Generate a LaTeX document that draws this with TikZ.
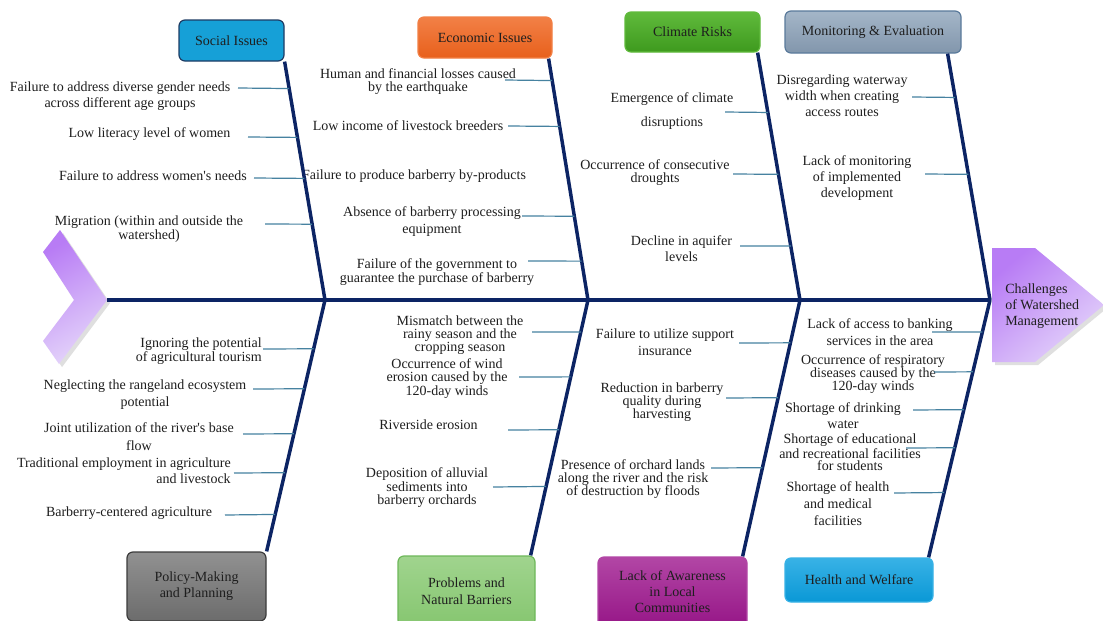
\documentclass[tikz,border=0pt]{standalone}
\usepackage{fontspec}
\setmainfont{Liberation Serif}
\usetikzlibrary{calc,shadows}
\definecolor{navy}{RGB}{12,36,100}
\definecolor{subc}{RGB}{70,130,160}
\definecolor{txtc}{RGB}{30,30,30}
\definecolor{lavA}{RGB}{184,124,245}
\definecolor{lavB}{RGB}{228,212,250}
\definecolor{socF}{RGB}{22,160,215}
\definecolor{socD}{RGB}{30,60,100}
\definecolor{ecoA}{RGB}{242,128,70}
\definecolor{ecoB}{RGB}{232,96,28}
\definecolor{cliA}{RGB}{96,186,60}
\definecolor{cliB}{RGB}{62,154,30}
\definecolor{monA}{RGB}{164,182,200}
\definecolor{monB}{RGB}{130,150,172}
\definecolor{monD}{RGB}{90,122,155}
\definecolor{polA}{RGB}{145,145,145}
\definecolor{polB}{RGB}{108,108,108}
\definecolor{polD}{RGB}{60,60,60}
\definecolor{proA}{RGB}{160,212,142}
\definecolor{proB}{RGB}{134,198,112}
\definecolor{proD}{RGB}{110,184,90}
\definecolor{awaA}{RGB}{178,70,165}
\definecolor{awaB}{RGB}{150,22,135}
\definecolor{heaA}{RGB}{56,178,230}
\definecolor{heaB}{RGB}{10,152,214}
\begin{document}
\begin{tikzpicture}[x=0.75pt,y=-0.75pt,
  txt/.style={inner sep=0pt, align=center, text=txtc, font=\fontsize{10.5}{9.75}\selectfont},
  lsp/.style={font=\fontsize{10.5}{#1}\selectfont},
  catbox/.style={rounded corners=4.5pt, inner sep=0pt, align=center, text=txtc,
    font=\fontsize{10.5}{12}\selectfont, line width=0.9pt},
  spineline/.style={draw=navy, line width=3pt},
  boneline/.style={draw=navy, line width=2.6pt},
  subline/.style={draw=subc, line width=0.9pt}]
\path[use as bounding box] (0,0) rectangle (1103,621);
\clip (0,0) rectangle (1103,621);
\fill[white] (0,0) rectangle (1103,621);

% tail chevron and head
\shade[top color=lavA, bottom color=lavB, shading angle=30, drop shadow={opacity=0.25}]
  (43,252) -- (60,230) -- (107,300) -- (59,364) -- (43,341) -- (74,300) -- cycle;
\coordinate (tailtip) at (107,300);
\shade[top color=lavA, bottom color=lavB, shading angle=40, drop shadow={opacity=0.25}]
  (992,248) -- (1035,248) -- (1104,305) -- (1035,362) -- (992,362) -- cycle;
\node[txt, lsp=12, align=left, anchor=west] (head) at (1005,306) {Challenges\\of Watershed\\Management};

% category boxes
\node[catbox, draw=socD, fill=socF, minimum width=78.75pt, minimum height=30.75pt] (soc) at (231.5,40.5) {Social Issues};
\node[catbox, draw=ecoA, top color=ecoA, bottom color=ecoB, minimum width=100.5pt, minimum height=30.75pt] (eco) at (485,37.5) {Economic Issues};
\node[catbox, draw=cliA, top color=cliA, bottom color=cliB, minimum width=101.25pt, minimum height=30pt] (cli) at (692.5,32) {Climate Risks};
\node[catbox, draw=monD, top color=monA, bottom color=monB, minimum width=132pt, minimum height=31.5pt] (mon) at (873,32) {Monitoring \& Evaluation};
\node[catbox, draw=polD, top color=polA, bottom color=polB, minimum width=104.25pt, minimum height=51.75pt] (pol) at (196.5,586.5) {Policy-Making\\and Planning};
\node[catbox, draw=proD, top color=proA, bottom color=proB, minimum width=102.75pt, minimum height=52.5pt, font=\fontsize{10.5}{12.75}\selectfont] (pro) at (466.5,591) {Problems and\\Natural Barriers};
\node[catbox, draw=awaA, top color=awaA, bottom color=awaB, minimum width=111.75pt, minimum height=52.5pt] (awa) at (672.5,592) {Lack of Awareness\\in Local\\Communities};
\node[catbox, draw=heaA, top color=heaA, bottom color=heaB, minimum width=111pt, minimum height=33pt] (hea) at (859,580) {Health and Welfare};

% spine junctions
\coordinate (j1) at (325,300);
\coordinate (j2) at (588,300);
\coordinate (j3) at (800,300);
\coordinate (j4) at (990,300);
\coordinate (socT) at (soc.south east);
\coordinate (ecoT) at ([xshift=-3pt]eco.south east);
\coordinate (cliT) at ([xshift=-2.25pt]cli.south east);
\coordinate (monT) at ([xshift=-10.5pt]mon.south east);
\coordinate (polB) at (pol.north east);
\coordinate (proB) at ([xshift=-3.75pt]pro.north east);
\coordinate (awaB) at ([xshift=-3.75pt]awa.north east);
\coordinate (heaB) at ([xshift=-3.75pt]hea.north east);

% cause texts
\node[txt, lsp=12] (s1) at (120,96) {Failure to address diverse gender needs\\across different age groups};
\node[txt] (s2) at (149.5,134) {Low literacy level of women};
\node[txt] (s3) at (153,176) {Failure to address women\textquotesingle s needs};
\node[txt, lsp=10.5] (s4) at (149,229) {Migration (within and outside the\\watershed)};

\node[txt, lsp=9.75] (e1) at (418,81.5) {Human and financial losses caused\\by the earthquake};
\node[txt] (e2) at (408,126) {Low income of livestock breeders};
\node[txt] (e3) at (414,176) {Failure to produce barberry by-products};
\node[txt, lsp=12.75] (e4) at (432,221.5) {Absence of barberry processing\\equipment};
\node[txt, lsp=9] (e5) at (437,272) {Failure of the government to\\guarantee the purchase of barberry};

\node[txt, lsp=18] (c1) at (672,111) {Emergence of climate\\disruptions};
\node[txt, lsp=9.75] (c2) at (655,172.5) {Occurrence of consecutive\\droughts};
\node[txt, lsp=12] (c3) at (681.5,249) {Decline in aquifer\\levels};

\node[txt, lsp=12] (m1) at (842,96) {Disregarding waterway\\width when creating\\access routes};
\node[txt, lsp=12] (m2) at (857,178) {Lack of monitoring\\of implemented\\development};

\node[txt, lsp=10.5, align=right, anchor=east] (p1) at (262,351) {Ignoring the potential\\of agricultural tourism};
\node[txt, lsp=12.75] (p2) at (145,394.5) {Neglecting the rangeland ecosystem\\potential};
\node[txt, lsp=13.5] (p3) at (139,437) {Joint utilization of the river\textquotesingle s base\\flow};
\node[txt, lsp=12, align=right, anchor=east] (p4) at (231,471) {Traditional employment in agriculture\\and livestock};
\node[txt] (p5) at (129,513) {Barberry-centered agriculture};

\node[txt, lsp=9.75] (r1) at (460,335) {Mismatch between the\\rainy season and the\\cropping season};
\node[txt, lsp=9.4] (r2) at (447,378.5) {Occurrence of wind\\erosion caused by the\\120-day winds};
\node[txt] (r3) at (428.5,425) {Riverside erosion};
\node[txt, lsp=9.4] (r4) at (427,487.5) {Deposition of alluvial\\sediments into\\barberry orchards};

\node[txt, lsp=12.75] (a1) at (665,342.5) {Failure to utilize support\\insurance};
\node[txt, lsp=9.75] (a2) at (662,402) {Reduction in barberry\\quality during\\harvesting};
\node[txt, lsp=9.75] (a3) at (633,479) {Presence of orchard lands\\along the river and the risk\\of destruction by floods};

\node[txt, lsp=12.75] (h1) at (880,332.5) {Lack of access to banking\\services in the area};
\node[txt, lsp=9.75] (h2) at (873,374.5) {Occurrence of respiratory\\diseases caused by the\\120-day winds};
\node[txt, lsp=12] (h3) at (843,416) {Shortage of drinking\\water};
\node[txt, lsp=9.4] (h4) at (850,452.5) {Shortage of educational\\and recreational facilities\\for students};
\node[txt, lsp=12.75] (h5) at (838,504) {Shortage of health\\and medical\\facilities};

% spine and bones
\draw[spineline] (tailtip) -- (j4);
\draw[boneline] (socT) -- (j1);
\draw[boneline] (ecoT) -- (j2);
\draw[boneline] (cliT) -- (j3);
\draw[boneline] (monT) -- (j4);
\draw[boneline] (j1) -- (polB);
\draw[boneline] (j2) -- (proB);
\draw[boneline] (j3) -- (awaB);
\draw[boneline] (j4) -- (heaB);

% sub-bone start points
\coordinate (s1s) at (238,88);  \coordinate (s2s) at (248,137);
\coordinate (s3s) at (254,178); \coordinate (s4s) at (265,224);
\coordinate (e1s) at (505,80);  \coordinate (e2s) at (508,126);
\coordinate (e4s) at (522,216); \coordinate (e5s) at (528,261);
\coordinate (c1s) at (725,112); \coordinate (c2s) at (733,174);
\coordinate (c3s) at (740,246);
\coordinate (m1s) at (912,97);  \coordinate (m2s) at (925,174);
\coordinate (p1s) at (263,349); \coordinate (p2s) at (253,389);
\coordinate (p3s) at (243,434); \coordinate (p4s) at (234,473);
\coordinate (p5s) at (225,515);
\coordinate (r1s) at (532,332); \coordinate (r2s) at (519,377);
\coordinate (r3s) at (508,430); \coordinate (r4s) at (493,487);
\coordinate (a1s) at (739,343); \coordinate (a2s) at (726,398);
\coordinate (a3s) at (711,468);
\coordinate (h1s) at (932,332); \coordinate (h2s) at (934,372);
\coordinate (h3s) at (913,410); \coordinate (h4s) at (906,448);
\coordinate (h5s) at (894,493);

% sub-bones
\draw[subline] (s1s) -- ($(socT)!0.113!(j1)$);
\draw[subline] (s2s) -- ($(socT)!0.318!(j1)$);
\draw[subline] (s3s) -- ($(socT)!0.490!(j1)$);
\draw[subline] (s4s) -- ($(socT)!0.682!(j1)$);
\draw[subline] (e1s) -- ($(ecoT)!0.091!(j2)$);
\draw[subline] (e2s) -- ($(ecoT)!0.281!(j2)$);
\draw[subline] (e4s) -- ($(ecoT)!0.653!(j2)$);
\draw[subline] (e5s) -- ($(ecoT)!0.839!(j2)$);
\draw[subline] (c1s) -- ($(cliT)!0.242!(j3)$);
\draw[subline] (c2s) -- ($(cliT)!0.492!(j3)$);
\draw[subline] (c3s) -- ($(cliT)!0.782!(j3)$);
\draw[subline] (m1s) -- ($(monT)!0.178!(j4)$);
\draw[subline] (m2s) -- ($(monT)!0.490!(j4)$);
\draw[subline] (p1s) -- ($(j1)!0.194!(polB)$);
\draw[subline] (p2s) -- ($(j1)!0.353!(polB)$);
\draw[subline] (p3s) -- ($(j1)!0.532!(polB)$);
\draw[subline] (p4s) -- ($(j1)!0.687!(polB)$);
\draw[subline] (p5s) -- ($(j1)!0.853!(polB)$);
\draw[subline] (r1s) -- ($(j2)!0.125!(proB)$);
\draw[subline] (r2s) -- ($(j2)!0.301!(proB)$);
\draw[subline] (r3s) -- ($(j2)!0.508!(proB)$);
\draw[subline] (r4s) -- ($(j2)!0.730!(proB)$);
\draw[subline] (a1s) -- ($(j3)!0.167!(awaB)$);
\draw[subline] (a2s) -- ($(j3)!0.381!(awaB)$);
\draw[subline] (a3s) -- ($(j3)!0.654!(awaB)$);
\draw[subline] (h1s) -- ($(j4)!0.124!(heaB)$);
\draw[subline] (h2s) -- ($(j4)!0.279!(heaB)$);
\draw[subline] (h3s) -- ($(j4)!0.426!(heaB)$);
\draw[subline] (h4s) -- ($(j4)!0.574!(heaB)$);
\draw[subline] (h5s) -- ($(j4)!0.748!(heaB)$);
\end{tikzpicture}
\end{document}
